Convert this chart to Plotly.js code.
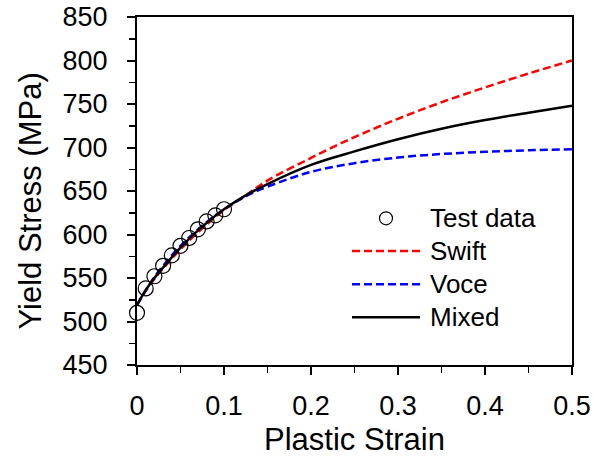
<!DOCTYPE html>
<html>
<head>
<meta charset="utf-8">
<script src="https://cdn.plot.ly/plotly-3.0.1.min.js"></script>
<style>html,body{margin:0;padding:0;background:#fff;}#chart{width:594px;height:460px;}</style>
</head>
<body>
<div id="chart"></div>
<script>
// Test data
const testStrain = [0, 0.01, 0.02, 0.03, 0.04, 0.05, 0.06, 0.07, 0.08, 0.09, 0.1];
const testStress = [510, 538, 552, 564, 576, 587, 596, 606, 615, 622, 629];

// Fitted curves
const curveStrain = [0, 0.01, 0.02, 0.03, 0.05, 0.075, 0.1, 0.125, 0.15, 0.2, 0.25, 0.3, 0.35, 0.4, 0.45, 0.5];
const swiftStress = [519, 535, 549, 561, 583, 607, 628, 645, 662, 688, 712, 733, 752, 769, 785, 800];
const voceStress  = [519, 536, 551, 564, 587, 610, 629, 644, 655, 672, 682, 688.5, 692.5, 695, 696.8, 698];
const mixedStress = [519, 536, 550, 562, 585, 609, 629, 645, 658, 680, 695.5, 709.5, 721.5, 731.5, 740, 748];

const seriesNames = ['Test data', 'Swift', 'Voce', 'Mixed'];
const xTitle = 'Plastic Strain';
const yTitle = 'Yield Stress (MPa)';

const FONT = 'Liberation Sans, Arial, Helvetica, sans-serif';

const traces = [
  {x: curveStrain, y: swiftStress, name: seriesNames[1], mode: 'lines',
   line: {color: '#ff0000', width: 2.5, dash: '8px,4px', shape: 'spline'}},
  {x: curveStrain, y: voceStress, name: seriesNames[2], mode: 'lines',
   line: {color: '#0000ff', width: 2.5, dash: '8px,4px', shape: 'spline'}},
  {x: curveStrain, y: mixedStress, name: seriesNames[3], mode: 'lines',
   line: {color: '#000000', width: 2.5, shape: 'spline'}},
  {x: testStrain, y: testStress, name: seriesNames[0], mode: 'markers', cliponaxis: false,
   marker: {symbol: 'circle-open', size: 15, color: '#000000', line: {width: 1.2, color: '#000000'}}}
];

// custom legend (layout decoration, paper coordinates)
const L = {x0: 0.4943, x1: 0.6506, xt: 0.669, xc: 0.5724, rows: [0.4216, 0.3276, 0.2319, 0.1371]};
const shapes = [
  {type: 'circle', xref: 'paper', yref: 'paper',
   x0: L.xc - 0.0149, x1: L.xc + 0.0149, y0: L.rows[0] - 0.0187, y1: L.rows[0] + 0.0187,
   line: {color: '#000', width: 1.2}},
  {type: 'line', xref: 'paper', yref: 'paper', x0: L.x0, x1: L.x1, y0: L.rows[1], y1: L.rows[1],
   line: {color: '#ff0000', width: 2.5, dash: '8px,4px'}},
  {type: 'line', xref: 'paper', yref: 'paper', x0: L.x0, x1: L.x1, y0: L.rows[2], y1: L.rows[2],
   line: {color: '#0000ff', width: 2.5, dash: '8px,4px'}},
  {type: 'line', xref: 'paper', yref: 'paper', x0: L.x0, x1: L.x1, y0: L.rows[3], y1: L.rows[3],
   line: {color: '#000000', width: 2.5}}
];
const annotations = seriesNames.map((n, i) => ({
  text: n, xref: 'paper', yref: 'paper', x: L.xt, y: L.rows[i],
  xanchor: 'left', yanchor: 'middle', showarrow: false,
  font: {family: FONT, size: 26, color: '#000'}
}));
annotations.push({
  text: yTitle, xref: 'paper', yref: 'paper', x: -0.245, y: 0.471,
  xanchor: 'center', yanchor: 'middle', textangle: -90, showarrow: false,
  font: {family: FONT, size: 31, color: '#000'}
});

const layout = {
  width: 594, height: 460,
  margin: {l: 137, r: 22, t: 17, b: 95},
  paper_bgcolor: '#fff', plot_bgcolor: '#fff',
  showlegend: false,
  font: {family: FONT, color: '#000'},
  xaxis: {
    range: [0, 0.5], dtick: 0.1, tick0: 0,
    showgrid: false, zeroline: false,
    showline: true, linecolor: '#000', linewidth: 2, mirror: true,
    ticks: 'outside', ticklen: 8, tickwidth: 2, tickcolor: '#000',
    minor: {dtick: 0.05, ticks: 'outside', ticklen: 6, tickwidth: 1.5, tickcolor: '#000'},
    tickfont: {family: FONT, size: 27, color: '#000'},
    ticklabelstandoff: 8,
    title: {text: xTitle, font: {family: FONT, size: 31, color: '#000'}, standoff: 8}
  },
  yaxis: {
    range: [450, 850], dtick: 50, tick0: 450,
    showgrid: false, zeroline: false,
    showline: true, linecolor: '#000', linewidth: 2, mirror: true,
    ticks: 'outside', ticklen: 8, tickwidth: 2, tickcolor: '#000',
    minor: {dtick: 25, ticks: 'outside', ticklen: 6, tickwidth: 1.5, tickcolor: '#000'},
    tickfont: {family: FONT, size: 27, color: '#000'},
    ticklabelstandoff: 14
  },
  shapes: shapes,
  annotations: annotations
};

Plotly.newPlot('chart', traces, layout, {displayModeBar: false, staticPlot: true});
</script>
</body>
</html>
